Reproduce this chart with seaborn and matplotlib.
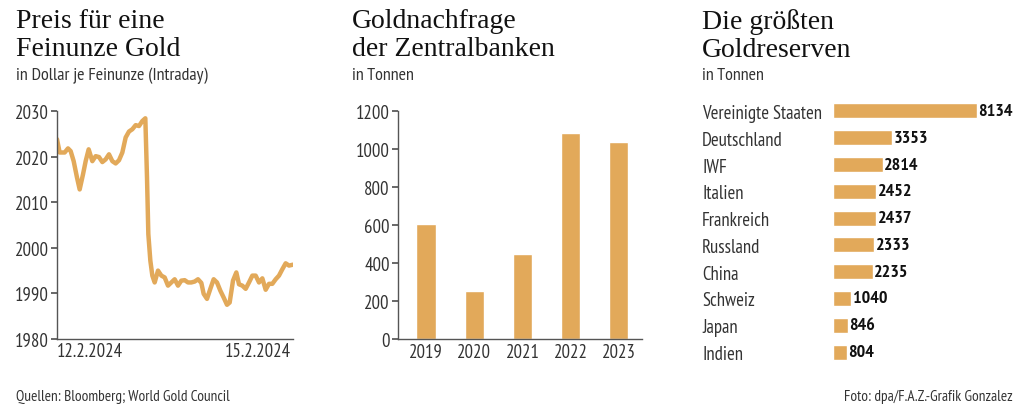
import matplotlib
matplotlib.use("Agg")
import matplotlib.pyplot as plt
import seaborn as sns
from matplotlib import font_manager

sns.set_theme(style="white")

names = {f.name for f in font_manager.fontManager.ttflist}
SANS = "DejaVu Sans"
for cand in ["PT Sans Narrow", "Fira Sans Condensed", "Roboto Condensed", "IBM Plex Sans Condensed"]:
    if cand in names:
        SANS = cand
        break
SERIF = "Liberation Serif"
plt.rcParams['font.family'] = [SANS, 'DejaVu Sans']

GOLD = "#E2A95A"
TXT = "#333333"
AX = "#555555"

# ---- data ----
hours = [0, 0.8, 2.3, 3.3, 4.1, 5.0, 6.0, 6.8, 7.8, 8.6, 9.5, 10.6, 11.6, 12.6, 13.6,
         14.6, 15.6, 16.6, 17.6, 18.6, 19.6, 20.6, 21.6, 22.6, 23.6, 24.6, 25.6, 26.5,
         27.0, 27.4, 28.0, 28.6, 29.3, 30.3, 31.3, 32.3, 33.3, 34.3, 35.3, 36.3, 37.3,
         38.3, 39.3, 40.3, 41.3, 42.3, 43.3, 44.0, 45.0, 46.0, 47.0, 48.0, 49.0, 50.0,
         51.0, 51.8, 52.8, 53.8, 54.6, 55.6, 56.6, 57.6, 58.6, 59.6, 60.6, 61.6, 62.6,
         63.6, 64.6, 65.6, 66.6, 67.6, 68.6, 69.6, 70.8]
price = [2023.8, 2020.9, 2020.9, 2021.8, 2021.2, 2019.0, 2015.4, 2012.8, 2016.1, 2019.0,
         2021.6, 2019.0, 2020.1, 2019.9, 2018.8, 2019.4, 2020.5, 2019.0, 2018.5, 2019.2,
         2020.9, 2024.2, 2025.5, 2026.0, 2026.9, 2026.7, 2027.8, 2028.4, 2015.4, 2003.0,
         1997.2, 1993.9, 1992.4, 1995.0, 1993.9, 1993.5, 1991.7, 1992.4, 1993.1, 1991.7,
         1992.8, 1992.9, 1992.4, 1992.4, 1992.6, 1993.1, 1992.3, 1989.9, 1988.8, 1991.0,
         1993.1, 1992.4, 1990.6, 1989.1, 1987.5, 1988.0, 1992.8, 1994.6, 1992.0, 1991.7,
         1991.0, 1992.4, 1993.9, 1993.9, 1992.4, 1993.3, 1990.8, 1992.1, 1992.1, 1993.1,
         1993.9, 1995.3, 1996.6, 1996.1, 1996.3]
date_tick_pos = [9.8, 60.3]
date_tick_labels = ["12.2.2024", "15.2.2024"]

years = ["2019", "2020", "2021", "2022", "2023"]
demand = [605, 255, 450, 1082, 1037]

countries = ["Vereinigte Staaten", "Deutschland", "IWF", "Italien", "Frankreich",
             "Russland", "China", "Schweiz", "Japan", "Indien"]
reserves = [8134, 3353, 2814, 2452, 2437, 2333, 2235, 1040, 846, 804]

# ---- figure ----
fig = plt.figure(figsize=(10.24, 4.10), dpi=100)
W, H = 1024, 410

def axes_px(l, t, r, b):
    return fig.add_axes([l / W, 1 - b / H, (r - l) / W, (b - t) / H])

TICK_FS = 13.5

# Titles
for x, t1, sub in [(16, "Preis für eine\nFeinunze Gold", "in Dollar je Feinunze (Intraday)"),
                   (352, "Goldnachfrage\nder Zentralbanken", "in Tonnen"),
                   (702, "Die größten\nGoldreserven", "in Tonnen")]:
    fig.text(x / W, 1 - 9 / H, t1, family=SERIF, fontsize=20, color="#111111",
             va="top", ha="left", linespacing=1.15)
    fig.text(x / W, 1 - 76 / H, sub, fontsize=13, color=TXT, va="center", ha="left")

# Line chart
ax1 = axes_px(57, 112, 293, 340)
sns.lineplot(x=hours, y=price, ax=ax1, color=GOLD, linewidth=3.2)
ax1.set_xlim(0, 70.8)
ax1.set_ylim(1980, 2030)
ax1.set_yticks([1980, 1990, 2000, 2010, 2020, 2030])
ax1.set_xticks(date_tick_pos)
ax1.set_xticklabels(date_tick_labels)
for s in ["top", "right"]:
    ax1.spines[s].set_visible(False)
for s in ["left", "bottom"]:
    ax1.spines[s].set_color(AX)
    ax1.spines[s].set_linewidth(1)
ax1.tick_params(axis="y", left=True, length=4, color=AX, labelsize=TICK_FS, labelcolor=TXT, pad=2)
ax1.tick_params(axis="x", bottom=False, length=0, labelsize=TICK_FS, labelcolor=TXT, pad=2)
ax1.set_facecolor("white")

# Bar chart
ax2 = axes_px(398, 112, 642, 340)
sns.barplot(x=years, y=demand, ax=ax2, color=GOLD, width=0.4, saturation=1)
ax2.set_xlim(-0.58, 4.48)
ax2.set_ylim(0, 1200)
ax2.set_yticks(range(0, 1201, 200))
for s in ["top", "right"]:
    ax2.spines[s].set_visible(False)
for s in ["left", "bottom"]:
    ax2.spines[s].set_color(AX)
    ax2.spines[s].set_linewidth(1)
ax2.tick_params(axis="y", left=True, length=4, color=AX, labelsize=TICK_FS, labelcolor=TXT, pad=2)
ax2.tick_params(axis="x", bottom=False, length=0, labelsize=TICK_FS, labelcolor=TXT, pad=3)

# Horizontal bars
ax3 = axes_px(833, 98.6, 1013, 366.4)
sns.barplot(x=reserves, y=countries, ax=ax3, color=GOLD, width=0.56, saturation=1, orient="h")
ax3.set_xlim(0, 8134 * 180 / 144)
ax3.set_ylim(9.5, -0.5)
for s in ax3.spines.values():
    s.set_visible(False)
ax3.set_xticks([])
ax3.tick_params(axis="y", left=False, length=0, labelsize=TICK_FS, labelcolor=TXT, pad=131 * 0.72)
for lab in ax3.get_yticklabels():
    lab.set_ha("left")
ax3.bar_label(ax3.containers[0], labels=[str(v) for v in reserves], padding=1,
              fontsize=13, fontweight="bold", color="#111111")
ax3.set_xlabel("")
ax3.set_ylabel("")

# Footer
fig.text(16 / W, 1 - 397 / H, "Quellen: Bloomberg; World Gold Council", fontsize=11,
         color=TXT, va="center", ha="left")
fig.text(1013 / W, 1 - 397 / H, "Foto: dpa/F.A.Z.-Grafik Gonzalez", fontsize=11,
         color=TXT, va="center", ha="right")

fig.savefig("out.png", dpi=100, facecolor="white")
